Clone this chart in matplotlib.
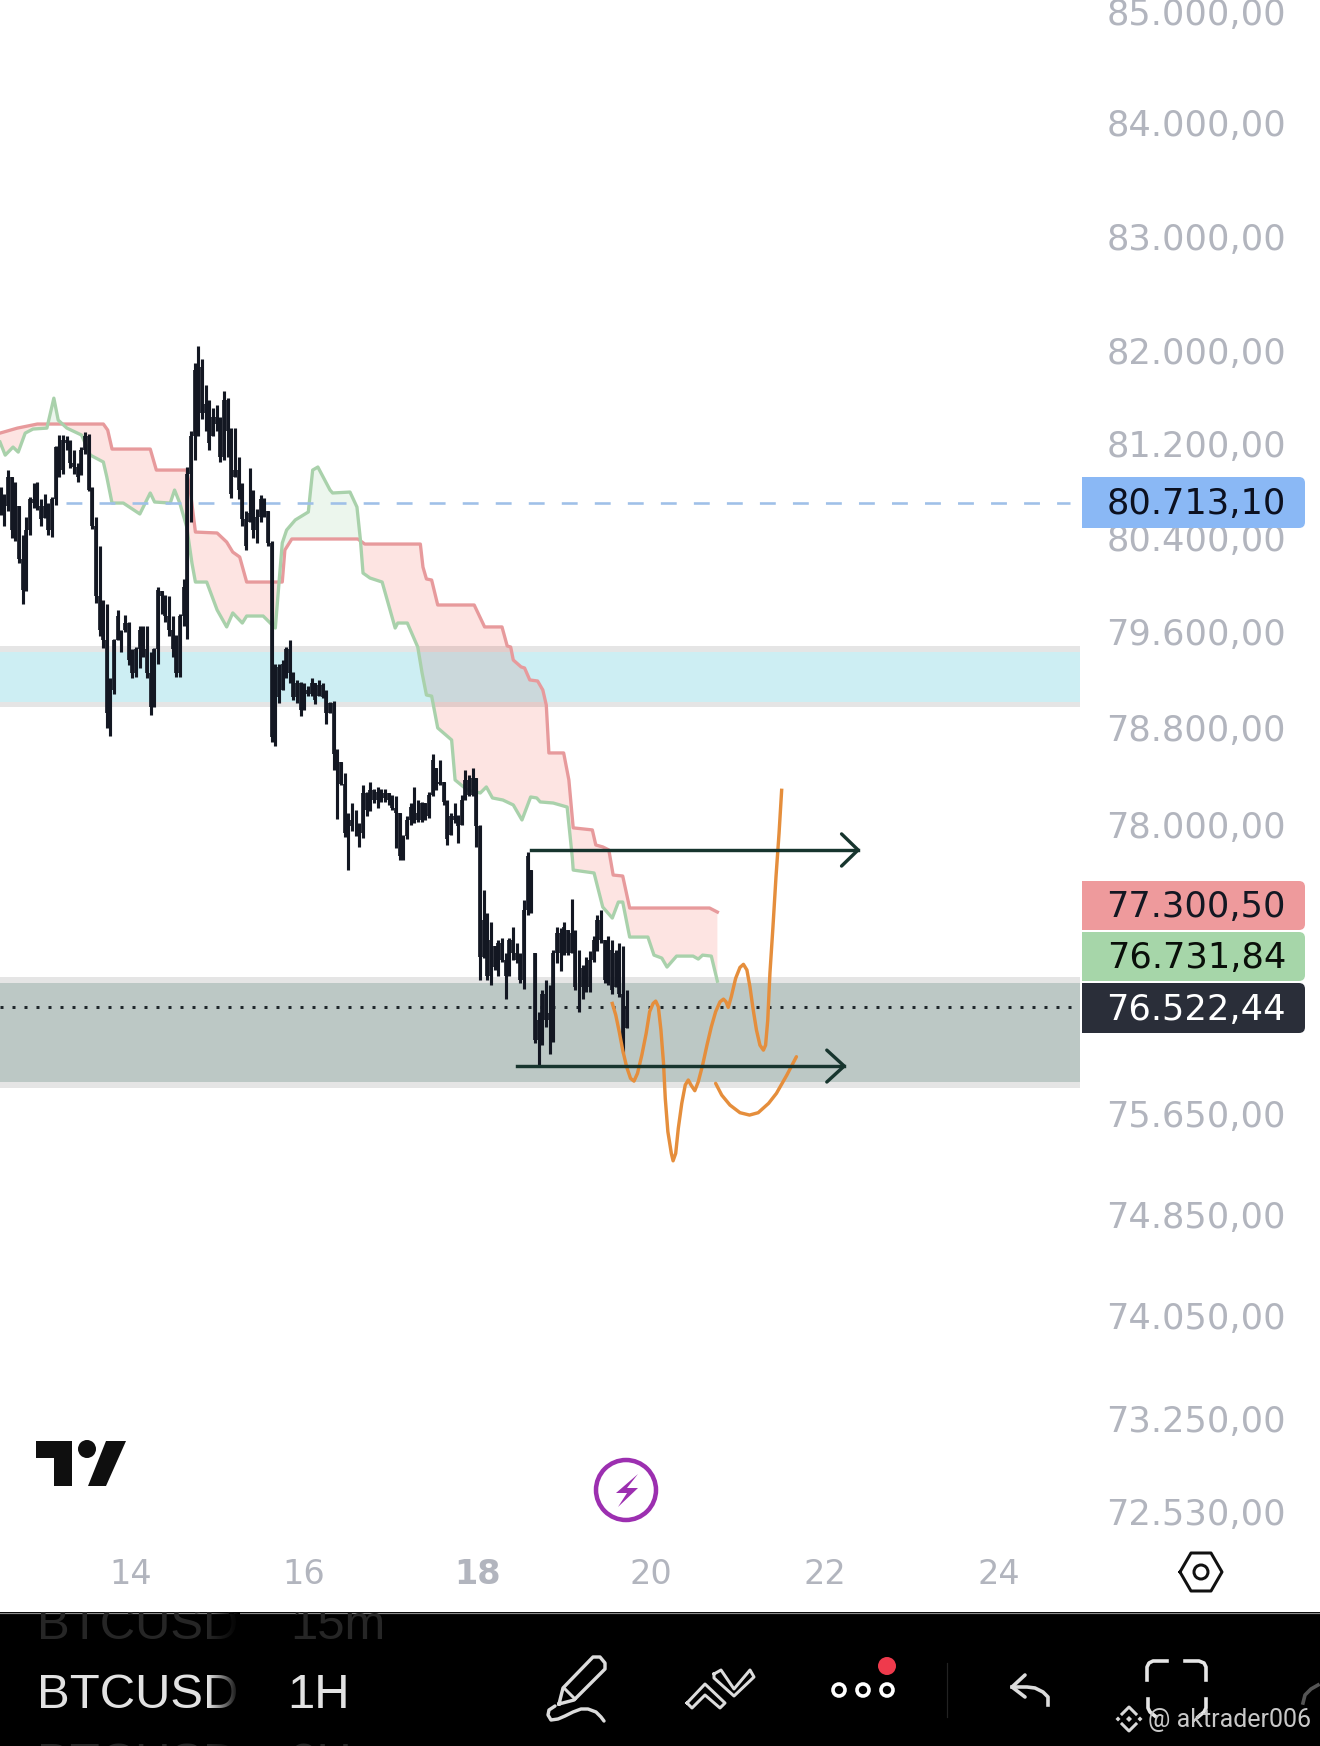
import numpy as np
import matplotlib
matplotlib.use("Agg")
import matplotlib.pyplot as plt
from matplotlib.patches import Rectangle, Circle, Polygon, FancyBboxPatch
from matplotlib.transforms import ScaledTranslation

# price data (1H candles, left to right)
highs = [
    80850, 80790, 80990, 80930, 80890, 80680, 80440, 80590, 80760, 80880,
    80890, 80740, 80790, 80710, 80760, 81200, 81290, 81290, 81280, 81250,
    81160, 81050, 81190, 81320, 81300, 80850, 80590, 80340, 79890, 79850,
    79230, 79560, 79800, 79630, 79760, 79700, 79470, 79490, 79670, 79670,
    79670, 79450, 79480, 80000, 79960, 79930, 79920, 79750, 79590, 79770,
    80060, 81020, 81330, 81910, 82060, 81950, 81720, 81590, 81520, 81550,
    81450, 81670, 81610, 81350, 81350, 81100, 80880, 80640, 81010, 80820,
    80660, 80780, 80750, 80640, 80390, 79350, 79350, 79380, 79490, 79550,
    79280, 79210, 79200, 79190, 79160, 79230, 79190, 79210, 79190, 79130,
    79030, 79040, 78640, 78530, 78440, 78105, 78190, 78135, 78025, 78340,
    78285, 78365, 78310, 78325, 78310, 78310, 78270, 78255, 78245, 78105,
    77930, 78080, 78190, 78325, 78215, 78200, 78190, 78285, 78600, 78480,
    78550, 78365, 78215, 78105, 78190, 78090, 78255, 78465, 78425, 78480,
    78395, 78010, 77475, 77285, 77215, 77015, 77070, 77080, 76960, 77080,
    77175, 77040, 76960, 77390, 77790, 77640, 76960, 76480, 76660, 76740,
    76700, 76985, 77175, 77160, 77215, 77150, 77400, 77150, 76985, 76865,
    76930, 76975, 77095, 77270, 77310, 77070, 77095, 77070, 76985, 77040,
    77015, 76660,
]
lows = [
    80610, 80510, 80640, 80410, 80390, 80200, 79850, 79960, 80440, 80670,
    80650, 80510, 80580, 80440, 80420, 80690, 80930, 80960, 81160, 81010,
    80960, 80890, 80950, 81130, 80810, 80490, 79860, 79580, 79480, 78810,
    78750, 79100, 79550, 79450, 79620, 79340, 79230, 79240, 79310, 79410,
    79230, 78920, 78990, 79350, 79770, 79700, 79580, 79410, 79240, 79240,
    79670, 79560, 80550, 81080, 81280, 81430, 81330, 81160, 81280, 81330,
    81060, 81080, 81100, 80750, 80930, 80740, 80510, 80310, 80550, 80410,
    80370, 80550, 80590, 80340, 78700, 78660, 79020, 79130, 79230, 79190,
    79050, 79020, 78910, 78960, 79080, 79080, 79010, 79080, 79060, 78850,
    78940, 78465, 78060, 78340, 77910, 77640, 77960, 77915, 77830, 77900,
    78080, 78120, 78190, 78150, 78200, 78200, 78175, 78135, 77820, 77720,
    77720, 77890, 78010, 78025, 78035, 78035, 78050, 78065, 78245, 78300,
    78340, 78175, 77845, 77930, 78025, 77860, 78010, 78215, 78245, 78245,
    77830, 76740, 76920, 76740, 76700, 76825, 76770, 76890, 76585, 76770,
    76905, 76880, 76715, 76670, 77270, 77285, 76230, 76055, 76215, 76360,
    76140, 76240, 76880, 76810, 76945, 76945, 76960, 76660, 76480, 76585,
    76645, 76645, 76890, 76975, 77040, 76715, 76700, 76630, 76685, 76605,
    76150, 76350,
]
closes = [
    80710, 80680, 80930, 80480, 80680, 80230, 79970, 80480, 80740, 80710,
    80680, 80570, 80680, 80480, 80740, 81190, 80990, 81250, 81220, 81050,
    81020, 80930, 81160, 81280, 80820, 80510, 79920, 79630, 79550, 78940,
    79130, 79550, 79750, 79630, 79690, 79380, 79270, 79470, 79630, 79470,
    79270, 78990, 79470, 79970, 79920, 79750, 79630, 79470, 79270, 79750,
    80000, 80960, 81280, 81850, 81880, 81480, 81560, 81220, 81450, 81390,
    81100, 81590, 81330, 80790, 80990, 80820, 80570, 80340, 80620, 80480,
    80590, 80740, 80640, 80370, 78740, 79320, 79070, 79350, 79470, 79270,
    79070, 79190, 78960, 79130, 79100, 79190, 79050, 79170, 79070, 78940,
    79020, 78600, 78550, 78350, 77940, 78050, 78000, 78000, 77940, 78270,
    78135, 78300, 78215, 78285, 78230, 78270, 78215, 78150, 78105, 77750,
    77915, 78050, 78160, 78105, 78050, 78190, 78080, 78255, 78550, 78350,
    78365, 78200, 77890, 78080, 78050, 78000, 78215, 78380, 78255, 78395,
    78000, 76930, 77230, 76770, 77070, 76850, 77040, 76905, 76770, 77070,
    76960, 76905, 76740, 77310, 77750, 77310, 76255, 76415, 76630, 76415,
    76470, 76960, 77120, 76960, 77175, 76960, 77120, 76685, 76685, 76840,
    76685, 76905, 77070, 77230, 77070, 76740, 76985, 76660, 76960, 76630,
    76175, 76522,
]
first_open = 80700

# cloud edges, day of month / price
red_days = [12.50, 12.70, 12.93, 13.69, 13.74, 13.79, 14.23, 14.30, 14.65, 14.69,
            14.75, 15.00, 15.11, 15.18, 15.26, 15.34, 15.75, 15.78, 15.86, 16.62,
            16.70, 17.34, 17.37, 17.41, 17.47, 17.54, 17.96, 18.08, 18.28, 18.34,
            18.38, 18.41, 18.50, 18.54, 18.60, 18.69, 18.75, 18.79, 18.82, 18.99,
            19.05, 19.10, 19.32, 19.36, 19.44, 19.51, 19.56, 19.67, 19.75, 20.67,
            20.76]
red_prices = [81308, 81351, 81386, 81386, 81334, 81171, 81171, 80991, 80991, 80820,
              80462, 80454, 80377, 80292, 80250, 80038, 80038, 80309, 80403, 80403,
              80360, 80360, 80165, 80064, 80055, 79844, 79844, 79659, 79659, 79499,
              79490, 79381, 79323, 79314, 79214, 79205, 79130, 79004, 78605, 78605,
              78381, 77985, 77968, 77844, 77828, 77803, 77597, 77589, 77327, 77327,
              77294]
green_days = [12.50, 12.56, 12.65, 12.71, 12.79, 12.88, 13.04, 13.08, 13.12, 13.17,
              13.27, 13.44, 13.54, 13.69, 13.73, 13.79, 13.92, 14.11, 14.23, 14.28,
              14.46, 14.51, 14.57, 14.65, 14.71, 14.75, 14.88, 15.00, 15.11, 15.18,
              15.29, 15.34, 15.53, 15.67, 15.75, 15.80, 15.90, 16.05, 16.10, 16.16,
              16.30, 16.33, 16.53, 16.61, 16.65, 16.68, 16.76, 16.90, 17.05, 17.08,
              17.19, 17.31, 17.36, 17.41, 17.47, 17.54, 17.70, 17.74, 17.88, 18.03,
              18.10, 18.17, 18.29, 18.41, 18.51, 18.61, 18.68, 18.72, 18.87, 19.03,
              19.09, 19.10, 19.34, 19.44, 19.55, 19.62, 19.67, 19.75, 19.96, 20.03,
              20.12, 20.18, 20.29, 20.48, 20.54, 20.59, 20.69, 20.76]
green_prices = [81231, 81119, 81188, 81145, 81308, 81343, 81351, 81480, 81609, 81420,
                81351, 81291, 81119, 81060, 80931, 80709, 80709, 80616, 80795, 80718,
                80709, 80820, 80709, 80505, 80199, 80038, 80038, 79802, 79659, 79777,
                79692, 79751, 79751, 79650, 80369, 80479, 80565, 80633, 80991, 81017,
                80820, 80795, 80803, 80675, 80394, 80114, 80072, 80038, 79650, 79692,
                79692, 79490, 79272, 79088, 79079, 78813, 78713, 78381, 78298, 78273,
                78323, 78232, 78215, 78174, 78050, 78240, 78232, 78199, 78190, 78157,
                77737, 77638, 77614, 77335, 77245, 77376, 77376, 77090, 77090, 76943,
                76919, 76846, 76935, 76935, 76911, 76943, 76935, 76731]

# hand drawn forecast
orange_days = [19.55, 19.59, 19.63, 19.67, 19.715, 19.76, 19.80, 19.84, 19.89, 19.94,
               19.98, 20.02, 20.05, 20.08, 20.11, 20.14, 20.16, 20.19, 20.23, 20.25,
               20.28, 20.31, 20.35, 20.39, 20.425, 20.456, 20.50, 20.54, 20.59, 20.64,
               20.69, 20.74, 20.79, 20.83, 20.86, 20.885, 20.92, 20.97, 21.02, 21.06,
               21.10, 21.135, 21.17, 21.21, 21.25, 21.29, 21.315, 21.34, 21.365, 21.40,
               21.435, 21.47, 21.50]
orange_prices = [76551, 76457, 76322, 76174, 76040, 75947, 75925, 75987, 76134, 76309,
                 76484, 76551, 76570, 76524, 76336, 76067, 75786, 75520, 75347, 75288,
                 75347, 75547, 75747, 75894, 75934, 75894, 75848, 75920, 76054, 76214,
                 76362, 76484, 76564, 76586, 76564, 76519, 76605, 76754, 76843, 76868,
                 76822, 76686, 76511, 76336, 76214, 76174, 76214, 76416, 76795, 77174,
                 77584, 77940, 78295]
orange2_days = [20.74, 20.81, 20.905, 21.02, 21.13, 21.23, 21.35, 21.44, 21.56, 21.67]
orange2_prices = [75907, 75813, 75733, 75672, 75653, 75672, 75747, 75827, 75974, 76121]

y_ticks = [85000, 84000, 83000, 82000, 81200, 80400, 79600, 78800, 78000,
           75650, 74850, 74050, 73250, 72530]
y_labels = ["85.000,00", "84.000,00", "83.000,00", "82.000,00", "81.200,00",
            "80.400,00", "79.600,00", "78.800,00", "78.000,00", "75.650,00",
            "74.850,00", "74.050,00", "73.250,00", "72.530,00"]
x_ticks = [14, 16, 18, 20, 22, 24]

alert_price = 80713.10
last_price = 76522.44
upper_level = 77803
lower_level = 76046
blue_zone = [79030, 79447]
blue_zone_edge = [78988, 79498]
grey_zone = [75918, 76716]
grey_zone_edge = [75870, 76765]

W, H = 1320, 1746
PT = 0.72  # one pixel in points at dpi 100
AXIS_GREY = "#b2b5be"
CANDLE = "#131722"
DARK_GREEN = "#17352e"
RED_LINE = "#e79a9c"
GREEN_LINE = "#a9d1ab"
ORANGE = "#e58e3c"
LABEL_FONT = "DejaVu Sans"
LABEL_PX = 35.2

fig = plt.figure(figsize=(W / 100, H / 100), dpi=100, facecolor="white")
ax = fig.add_axes([0, 0, 1, 1])
ax.set_yscale("log")
ax.set_xlim(12.5, 12.5 + W / 86.85)
ax.set_ylim(70772, 85117)
for s in ax.spines.values():
    s.set_visible(False)

# axes, labels sit inside the plot area
ax.yaxis.set_ticks_position("right")
ax.set_yticks(y_ticks, y_labels)
ax.yaxis.set_minor_locator(matplotlib.ticker.NullLocator())
ax.tick_params(axis="y", length=0, pad=-34 * PT, colors=AXIS_GREY, labelsize=LABEL_PX * PT)
up = ScaledTranslation(0, 2 / 100, fig.dpi_scale_trans)
for lab in ax.get_yticklabels():
    lab.set_ha("right")
    lab.set_family(LABEL_FONT)
    lab.set_transform(lab.get_transform() + up)
ax.set_xticks(x_ticks, [str(t) for t in x_ticks])
ax.tick_params(axis="x", length=0, pad=-(H - 1575) * PT, colors=AXIS_GREY, labelsize=33.5 * PT)
for lab in ax.get_xticklabels():
    lab.set_va("center")
    lab.set_family(LABEL_FONT)
    if lab.get_text() == "18":
        lab.set_fontweight("bold")

# cloud
grid = np.array(sorted(set(red_days) | set(green_days)))
red_i = np.interp(grid, red_days, red_prices)
green_i = np.interp(grid, green_days, green_prices)
ax.fill_between(grid, red_i, green_i, where=red_i >= green_i, interpolate=True,
                color="#f44336", alpha=0.14, lw=0, zorder=2)
ax.fill_between(grid, red_i, green_i, where=red_i < green_i, interpolate=True,
                color="#4caf50", alpha=0.10, lw=0, zorder=2)

# zones, translucent and over the cloud fill
zone_end = 1080 / W
ax.axhspan(blue_zone[1], blue_zone_edge[1], xmax=zone_end, color="black", alpha=0.1, lw=0, zorder=2.1)
ax.axhspan(blue_zone_edge[0], blue_zone[0], xmax=zone_end, color="black", alpha=0.1, lw=0, zorder=2.1)
ax.axhspan(*blue_zone, xmax=zone_end, color="#05aac3", alpha=0.2, lw=0, zorder=2.1)
ax.axhspan(grey_zone[1], grey_zone_edge[1], xmax=zone_end, color="black", alpha=0.1, lw=0, zorder=2.1)
ax.axhspan(grey_zone_edge[0], grey_zone[0], xmax=zone_end, color="black", alpha=0.1, lw=0, zorder=2.1)
ax.axhspan(*grey_zone, xmax=zone_end, color="#bcc8c5", lw=0, zorder=2.1)

ax.plot(red_days, red_prices, color=RED_LINE, lw=3.3 * PT, zorder=2.2, solid_joinstyle="round")
ax.plot(green_days, green_prices, color=GREEN_LINE, lw=3.3 * PT, zorder=2.2, solid_joinstyle="round")

# level lines
ax.plot([13.26, 24.82], [alert_price, alert_price], color="#9fc0e8", lw=2.6 * PT,
        dashes=(6.1, 6.6), zorder=2.4)
ax.plot([12.5, 24.86], [last_price, last_price], color="#20282c", lw=3.0 * PT,
        dashes=(1.0, 3.0), zorder=2.6)

# candles
highs, lows, closes = np.array(highs), np.array(lows), np.array(closes)
opens = np.clip(np.r_[first_open, closes[:-1]], lows, highs)
days = 12.508 + np.arange(len(closes)) * 0.04214
ax.vlines(days, lows, highs, color=CANDLE, lw=3.1 * PT, zorder=3, capstyle="butt")
ax.vlines(days, np.minimum(opens, closes), np.maximum(opens, closes), color=CANDLE,
          lw=3.7 * PT, zorder=3, capstyle="butt")

# forecast drawing
ax.plot(orange_days, orange_prices, color=ORANGE, lw=3.4 * PT, zorder=4, solid_joinstyle="round")
ax.plot(orange2_days, orange2_prices, color=ORANGE, lw=3.4 * PT, zorder=4, solid_capstyle="round")

# arrows
ax.plot([18.61, 22.38], [upper_level, upper_level], color=DARK_GREEN, lw=3.4 * PT, zorder=5)
ax.plot([22.19, 22.38, 22.19], [77935, upper_level, 77671], color=DARK_GREEN, lw=3.4 * PT,
        zorder=5, solid_capstyle="round")
ax.plot([18.45, 22.22], [lower_level, lower_level], color=DARK_GREEN, lw=3.4 * PT, zorder=5)
ax.plot([22.02, 22.22, 22.02], [76174, lower_level, 75918], color=DARK_GREEN, lw=3.4 * PT,
        zorder=5, solid_capstyle="round")

# furniture on top, in pixel coordinates
ui = fig.add_axes([0, 0, 1, 1], facecolor="none", zorder=5)
ui.set_xlim(0, W)
ui.set_ylim(H, 0)
ui.axis("off")

price_tags = [
    (477, 528, "#8ab8f5", "80.713,10", "#0b1020"),
    (881, 930, "#ee9a9c", "77.300,50", "#131722"),
    (932, 981, "#a6d6a9", "76.731,84", "#0a0f0a"),
    (983, 1033, "#2a2e39", "76.522,44", "white"),
]
for top, bottom, face, text, col in price_tags:
    ui.add_patch(Rectangle((1082, top), 20, bottom - top, color=face, lw=0))
    ui.add_patch(FancyBboxPatch((1089, top + 5), 211, bottom - top - 10,
                                boxstyle="round,pad=5,rounding_size=6", fc=face, ec="none"))
    ui.text(1286, (top + bottom) / 2 + 1.5, text, color=col, ha="right", va="center",
            family=LABEL_FONT, fontsize=LABEL_PX * PT)

# tradingview logo
ui.add_patch(Polygon([(36, 1441), (72, 1441), (72, 1486), (54, 1486), (54, 1458), (36, 1458)],
                     fc="#0f0f0f", ec="none"))
ui.add_patch(Circle((87, 1449), 9, fc="#0f0f0f", ec="none"))
ui.add_patch(Polygon([(106, 1441), (126, 1441), (106, 1486), (88, 1486)], fc="#0f0f0f", ec="none"))

# lightning button
ui.add_patch(Circle((626, 1490), 30, fc="white", ec="#9c2fb0", lw=4.5 * PT))
ui.add_patch(Polygon([(638, 1474), (616, 1493), (627, 1493), (618, 1507), (638, 1488), (627, 1488)],
                     fc="#9c2fb0", ec="none"))

# settings hexagon
hex_x = [1180, 1191, 1211, 1222, 1211, 1191, 1180]
hex_y = [1572, 1553, 1553, 1572, 1591, 1591, 1572]
ui.plot(hex_x, hex_y, color="#111111", lw=3 * PT, solid_joinstyle="round")
ui.add_patch(Circle((1201, 1572), 7, fc="none", ec="#111111", lw=3 * PT))

# bottom bar
bar = fig.add_axes([0, 0, 1, 134 / H], facecolor="black", zorder=6)
bar.set_xlim(0, W)
bar.set_ylim(H, 1612)
bar.axis("off")
bar.add_patch(Rectangle((0, 1612), W, 134, color="black", lw=0))
bar.plot([0, W], [1612.5, 1612.5], color="#8a8a8a", lw=1.2 * PT)

TXT = dict(family="Liberation Sans", fontsize=49 * PT, va="baseline", clip_on=True)
bar.text(37, 1639, "BTCUSD", color="#262626", **TXT)
bar.text(290, 1639, "15m", color="#262626", **TXT)
bar.text(37, 1708, "BTCUSD", color="#e2e2e2", **TXT)
bar.text(287, 1708, "1H", color="#e2e2e2", **TXT)
bar.text(37, 1777, "BTCUSD", color="#262626", **TXT)
bar.text(290, 1777, "2H", color="#262626", **TXT)

# names fade out to the right
fade = np.zeros((1, 64, 4))
fade[0, :, 3] = np.linspace(0, 1, 64)
bar.imshow(fade, extent=(208, 240, H, 1612), aspect="auto", zorder=4)
bar.set_xlim(0, W)
bar.set_ylim(H, 1612)

ICON = "#dcdcdc"
pen = [(559, 1704), (563, 1688), (593, 1657), (600, 1657), (605, 1663), (605, 1669), (574, 1700), (559, 1704)]
bar.plot(*zip(*pen), color=ICON, lw=3.4 * PT, solid_joinstyle="round")
bar.plot([565, 575], [1689, 1699], color=ICON, lw=3 * PT)
squiggle = [(555, 1706), (549, 1710), (548, 1715), (551, 1720), (558, 1719), (565, 1716), (573, 1712),
            (581, 1709), (588, 1709), (596, 1712), (601, 1717), (604, 1721)]
bar.plot(*zip(*squiggle), color=ICON, lw=3.4 * PT, solid_capstyle="round", solid_joinstyle="round")
left_chev = [(687, 1703), (705, 1684), (725, 1703), (720, 1708), (705, 1695), (692, 1708), (687, 1703)]
right_chev = [(714, 1674), (721, 1670), (734, 1689), (750, 1670), (754, 1677), (734, 1696), (714, 1678), (714, 1674)]
bar.plot(*zip(*left_chev), color=ICON, lw=3 * PT, solid_joinstyle="round")
bar.plot(*zip(*right_chev), color=ICON, lw=3 * PT, solid_joinstyle="round")
for cx in [839, 863, 887]:
    bar.add_patch(Circle((cx, 1690), 6, fc="none", ec="white", lw=3.6 * PT))
bar.add_patch(Circle((887, 1666), 9, fc="#ef3a4c", ec="none"))
bar.plot([947, 947], [1663, 1717], color="#222222", lw=1.2 * PT)

bar.plot([1025, 1012, 1025], [1675, 1687, 1697], color=ICON, lw=3.6 * PT, solid_capstyle="round")
bar.plot([1012, 1027, 1035, 1043, 1048, 1048], [1687, 1687, 1688, 1692, 1697, 1705],
         color=ICON, lw=3.6 * PT, solid_joinstyle="round")

brackets = [
    ([1147, 1147, 1149, 1153, 1167], [1680, 1667, 1663, 1661, 1661]),
    ([1185, 1199, 1204, 1206, 1206], [1661, 1661, 1663, 1667, 1680]),
    ([1148, 1148, 1150, 1155], [1699, 1708, 1712, 1716]),
    ([1206, 1206, 1204, 1198], [1699, 1708, 1712, 1717]),
]
for bx, by in brackets:
    bar.plot(bx, by, color="#e6e6e6", lw=3.6 * PT, solid_joinstyle="round")
bar.plot([1303, 1305, 1311, 1318], [1703, 1695, 1689, 1685], color="#555555", lw=3.6 * PT)

# watermark
bar.text(1148, 1720, "@ aktrader006", color="#c8c8c8", family="Roboto", fontsize=25 * PT,
         va="center", ha="left", clip_on=True)
for mx, my, r in [(1129, 1719, 3), (1118, 1719, 2.5), (1140, 1719, 2.5)]:
    bar.add_patch(Polygon([(mx - r, my), (mx, my - r), (mx + r, my), (mx, my + r)], fc="#d8d8d8", ec="none"))
bar.plot([1122, 1129, 1136], [1714, 1707, 1714], color="#d8d8d8", lw=3 * PT)
bar.plot([1122, 1129, 1136], [1724, 1731, 1724], color="#d8d8d8", lw=3 * PT)

fig.savefig("out.png", dpi=100)
